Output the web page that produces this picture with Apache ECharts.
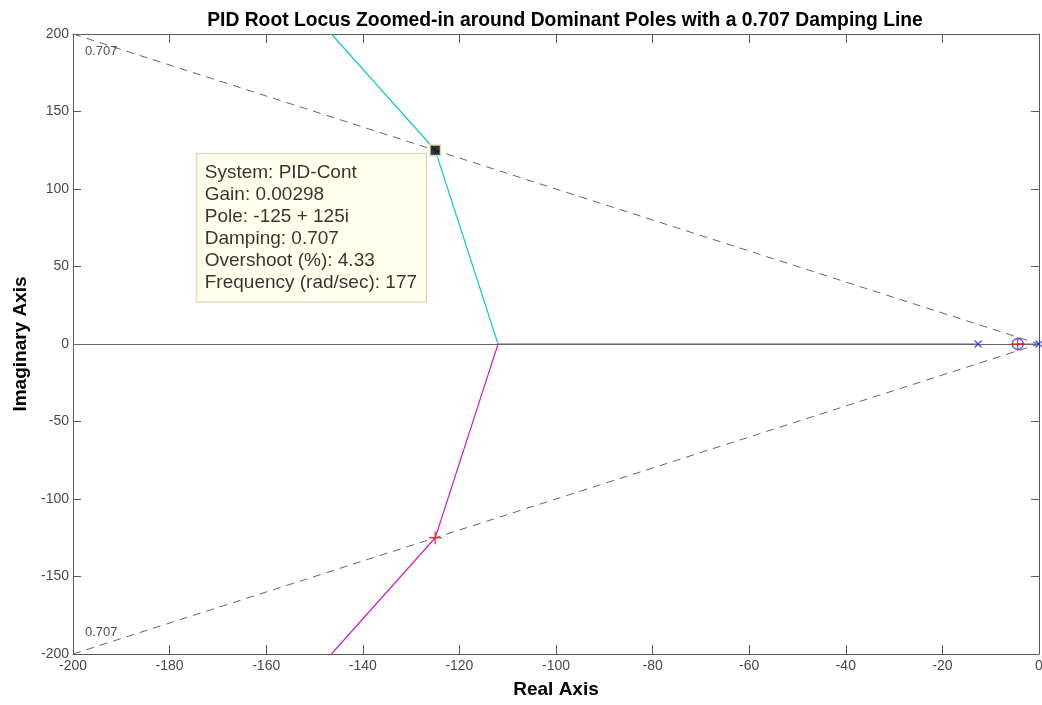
<!DOCTYPE html>
<html>
<head>
<meta charset="utf-8">
<script src="https://cdn.jsdelivr.net/npm/echarts@6/dist/echarts.min.js"></script>
<style>
  html, body { margin: 0; padding: 0; background: #fff; }
  #main { width: 1042px; height: 705px; }
</style>
</head>
<body>
<div id="main"></div>
<script>
// root locus branches (real, imag)
const upperBranch = [[-146.5, 200], [-125, 125], [-112, 0]]
const lowerBranch = [[-112, 0], [-125, -125], [-146.5, -200]]
const realAxisBranch = [[-112, 0], [-12.6, 0]]
const nearOriginBranch = [[-4.4, 0], [0, 0]]
const openLoopPoles = [[-12.6, 0], [0, 0]]
const openLoopZeros = [[-4.4, 0]]
const closedLoopPoles = [[-125, -125], [-4.4, 0]]
const selectedPole = [[-125, 125]]
// 0.707 damping lines
const dampUpper = [[-200, 200], [0, 0]]
const dampLower = [[-200, -200], [0, 0]]
const dampLabel = '0.707'
const dataTipLines = [
  'System: PID-Cont',
  'Gain: 0.00298',
  'Pole: -125 + 125i',
  'Damping: 0.707',
  'Overshoot (%): 4.33',
  'Frequency (rad/sec): 177'
]

const axisGray = '#5a5a5a'
const font = 'Arial, "Liberation Sans", sans-serif'
const crossPath = 'path://M0,0L10,10M10,0L0,10'
const plusPath = 'path://M5,0L5,10M0,5L10,5'

const myChart = echarts.init(document.getElementById('main'))

const baseX = {
  type: 'value', min: -200, max: 0, interval: 20,
  splitLine: { show: false },
  axisLine: { onZero: false, lineStyle: { color: axisGray } },
  axisTick: { inside: true, length: 9, lineStyle: { color: axisGray } }
}
const baseY = {
  type: 'value', min: -200, max: 200, interval: 50,
  splitLine: { show: false },
  axisLine: { onZero: false, lineStyle: { color: axisGray } },
  axisTick: { inside: true, length: 8, lineStyle: { color: axisGray } }
}

myChart.setOption({
  animation: false,
  title: {
    text: 'PID Root Locus Zoomed-in around Dominant Poles with a 0.707 Damping Line',
    left: 560, top: 6, textAlign: 'center',
    textStyle: { fontFamily: font, fontSize: 19.3, fontWeight: 'bold', color: '#000' }
  },
  grid: { left: 73, right: 3, top: 34, bottom: 51, outerBoundsMode: 'none' },
  xAxis: [
    Object.assign({}, baseX, {
      position: 'bottom',
      name: 'Real Axis', nameLocation: 'middle', nameGap: 26,
      nameTextStyle: { fontFamily: font, fontSize: 19, fontWeight: 'bold', color: '#000' },
      axisLabel: { fontFamily: font, fontSize: 14, color: '#4a4a4a', margin: 5 }
    }),
    Object.assign({}, baseX, { position: 'top', axisLabel: { show: false } })
  ],
  yAxis: [
    Object.assign({}, baseY, {
      position: 'left',
      name: 'Imaginary Axis', nameLocation: 'middle', nameGap: 43,
      nameTextStyle: { fontFamily: font, fontSize: 19, fontWeight: 'bold', color: '#000' },
      axisLabel: { fontFamily: font, fontSize: 14, color: '#4a4a4a', margin: 4 }
    }),
    Object.assign({}, baseY, { position: 'right', axisLabel: { show: false } })
  ],
  series: [
    {
      type: 'line', data: dampUpper, symbol: 'none', silent: true,
      lineStyle: { color: '#666', width: 1, type: [8, 6] },
      markLine: {
        symbol: 'none', silent: true, label: { show: false },
        lineStyle: { color: '#666', width: 1, type: 'solid' },
        data: [{ yAxis: 0 }]
      }
    },
    {
      type: 'line', data: dampLower, symbol: 'none', silent: true,
      lineStyle: { color: '#666', width: 1, type: [8, 6] }
    },
    {
      type: 'scatter', symbolSize: 0, silent: true,
      data: [
        { value: dampUpper[0], label: { position: [12, 11] } },
        { value: dampLower[0], label: { position: [12, -28] } }
      ],
      label: {
        show: true, formatter: dampLabel,
        fontFamily: font, fontSize: 13, color: '#222'
      }
    },
    {
      type: 'line', data: upperBranch, symbol: 'none',
      lineStyle: { color: '#14c8cc', width: 1.2 }
    },
    {
      type: 'line', data: lowerBranch, symbol: 'none',
      lineStyle: { color: '#cc1fcc', width: 1.2 }
    },
    {
      type: 'line', data: realAxisBranch, symbol: 'none',
      lineStyle: { color: '#8a4f9a', width: 1.2 }
    },
    {
      type: 'line', data: nearOriginBranch, symbol: 'none',
      lineStyle: { color: '#6a6aa8', width: 1.2 }
    },
    {
      type: 'scatter', data: openLoopPoles, symbol: crossPath, symbolSize: 7,
      clip: false, z: 5,
      itemStyle: { color: 'none', borderColor: '#1a1aff', borderWidth: 1.2 }
    },
    {
      type: 'scatter', data: openLoopZeros, symbol: 'circle', symbolSize: 11,
      z: 5,
      itemStyle: { color: 'none', borderColor: '#1a1aff', borderWidth: 1.3 }
    },
    {
      type: 'scatter', data: closedLoopPoles, symbol: plusPath, symbolSize: 13,
      z: 6,
      itemStyle: { color: 'none', borderColor: '#ff1010', borderWidth: 1.4 }
    },
    {
      type: 'scatter', data: selectedPole, symbol: 'rect', symbolSize: 11,
      itemStyle: { color: '#000', borderColor: '#f4f0c8', borderWidth: 2 },
      z: 10,
      label: {
        show: true,
        position: [-232, 10],
        formatter: dataTipLines.join('\n'),
        fontFamily: font, fontSize: 19, lineHeight: 22, color: '#000',
        backgroundColor: '#ffffe6', borderColor: '#c8c8b8', borderWidth: 1,
        padding: [8, 9, 8, 8], align: 'left', verticalAlign: 'top'
      }
    }
  ]
})
</script>
</body>
</html>
